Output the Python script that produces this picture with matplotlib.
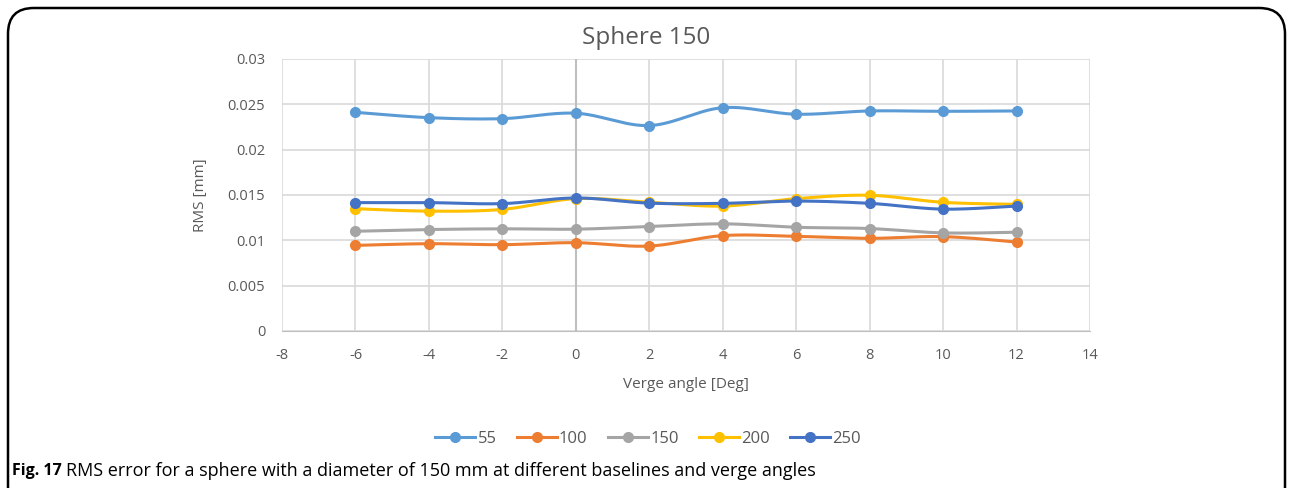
import matplotlib.pyplot as plt
import numpy as np
from matplotlib.patches import FancyBboxPatch

plt.rcParams['font.family'] = ['Open Sans', 'DejaVu Sans']
plt.rcParams['axes.unicode_minus'] = False

angles = [-6, -4, -2, 0, 2, 4, 6, 8, 10, 12]
rms_55 = [0.02412, 0.02353, 0.02342, 0.02402, 0.02266, 0.02463, 0.02391, 0.02427, 0.02423, 0.02427]
rms_100 = [0.00944, 0.00963, 0.00952, 0.00974, 0.00937, 0.01052, 0.01044, 0.01022, 0.01041, 0.00981]
rms_150 = [0.0110, 0.01119, 0.01127, 0.01123, 0.01152, 0.01182, 0.01144, 0.0113, 0.01082, 0.01089]
rms_200 = [0.01349, 0.01322, 0.01341, 0.0146, 0.0142, 0.01378, 0.0146, 0.01497, 0.01419, 0.01397]
rms_250 = [0.01416, 0.01416, 0.01405, 0.01467, 0.0141, 0.01408, 0.01433, 0.01408, 0.01344, 0.01378]
series = [("55", rms_55, "#5B9BD5"), ("100", rms_100, "#ED7D31"),
          ("150", rms_150, "#A5A5A5"), ("200", rms_200, "#FFC000"),
          ("250", rms_250, "#4472C4")]


def smooth(xs, ys, n=30):
    # Excel-style smoothed line: bezier segments with catmull-rom tangents
    xs = np.asarray(xs, float)
    ys = np.asarray(ys, float)
    px = np.concatenate([[xs[0]], xs, [xs[-1]]])
    py = np.concatenate([[ys[0]], ys, [ys[-1]]])
    t = np.linspace(0, 1, n)[:, None]
    outx, outy = [], []
    for i in range(len(xs) - 1):
        p0 = np.array([px[i], py[i]])
        p1 = np.array([px[i + 1], py[i + 1]])
        p2 = np.array([px[i + 2], py[i + 2]])
        p3 = np.array([px[i + 3], py[i + 3]])
        c1 = p1 + (p2 - p0) / 6
        c2 = p2 - (p3 - p1) / 6
        b = ((1 - t) ** 3) * p1 + 3 * ((1 - t) ** 2) * t * c1 + 3 * (1 - t) * t ** 2 * c2 + t ** 3 * p2
        outx.extend(b[:, 0])
        outy.extend(b[:, 1])
    return outx, outy


fig = plt.figure(figsize=(12.91, 4.88), dpi=100)
ax = fig.add_axes([282 / 1291, 1 - 331 / 488, (1090 - 282) / 1291, (331 - 59) / 488])

for name, vals, col in series:
    sx, sy = smooth(angles, vals)
    ax.plot(sx, sy, color=col, lw=2.2, solid_capstyle='round')
    ax.plot(angles, vals, 'o', color=col, ms=7)

ax.set_xlim(-8, 14)
ax.set_ylim(0, 0.03)
ax.set_xticks(np.arange(-8, 15, 2))
ax.set_yticks(np.arange(0, 0.0301, 0.005))
ax.set_yticklabels(["0", "0.005", "0.01", "0.015", "0.02", "0.025", "0.03"])
ax.grid(True, color="#d9d9d9", lw=1.2)
ax.set_axisbelow(True)
ax.axvline(0, color="#bfbfbf", lw=1.5, zorder=1)
for s in ["top", "right", "left"]:
    ax.spines[s].set_visible(False)
ax.spines["bottom"].set_color("#bfbfbf")
ax.tick_params(length=0, labelsize=10.5, colors="#595959", pad=12)
ax.set_xlabel("Verge angle [Deg]", fontsize=11, color="#595959", labelpad=10)
ax.set_ylabel("RMS [mm]", fontsize=11, color="#595959", labelpad=14)
fig.text(646 / 1291, 1 - 38 / 488, "Sphere 150", fontsize=17.5, color="#595959",
         ha="center", va="center")

handles = [plt.Line2D([], [], color=c, lw=2.2, marker='o', ms=7) for _, _, c in series]
fig.legend(handles, [n for n, _, _ in series], loc="center", bbox_to_anchor=(648 / 1291, 1 - 439 / 488),
           ncol=5, frameon=False, fontsize=12, handlelength=2.4, columnspacing=1.2,
           handletextpad=0.15, labelcolor="#595959")

fig.text(12 / 1291, 1 - 471 / 488, "Fig. 17", fontsize=11.5, fontweight="bold", va="center")
fig.text(66 / 1291, 1 - 471 / 488,
         "RMS error for a sphere with a diameter of 150 mm at different baselines and verge angles",
         fontsize=13, va="center")

border = FancyBboxPatch((8 / 1291, -0.05), 1277 / 1291, 1.05 - 8 / 488,
                        boxstyle="round,pad=0,rounding_size=0.02", transform=fig.transFigure,
                        fill=False, ec="black", lw=1.8, mutation_aspect=1291 / 488)
fig.patches.append(border)

fig.savefig("out.png", dpi=100)
